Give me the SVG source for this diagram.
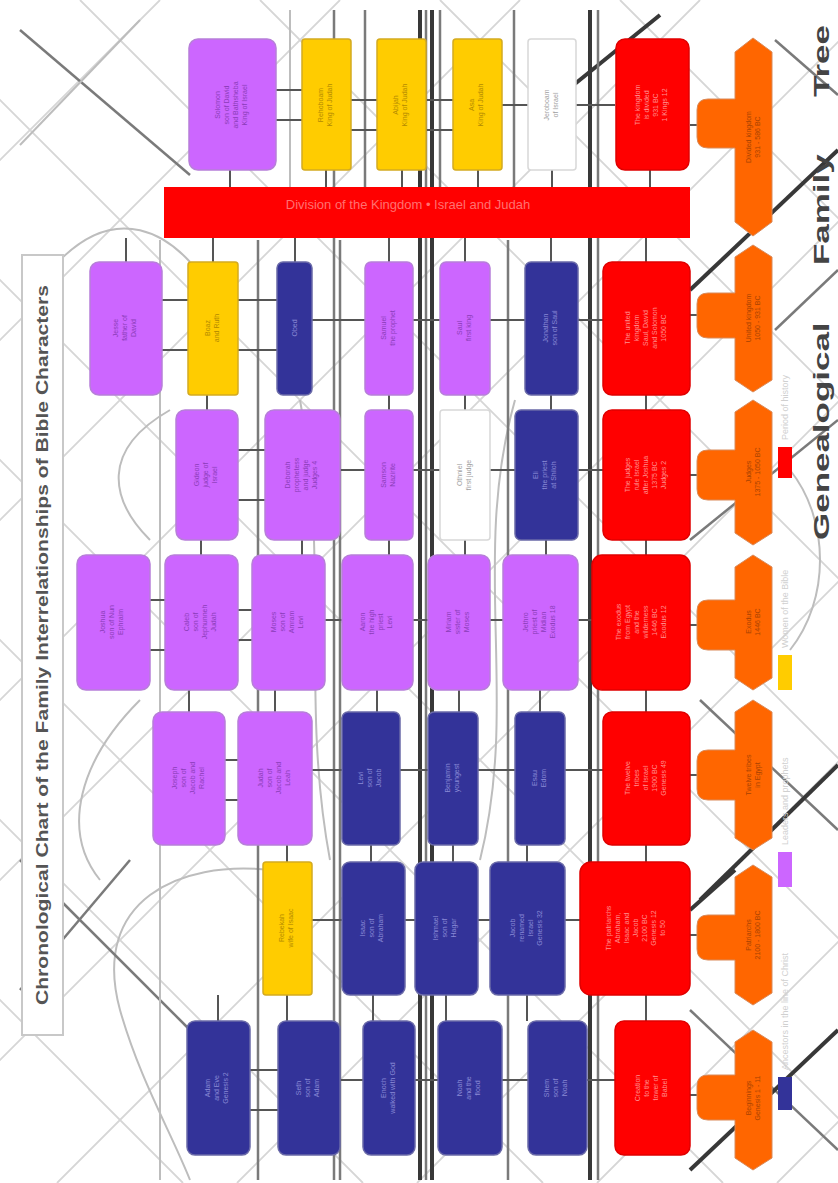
<svg xmlns="http://www.w3.org/2000/svg" width="838" height="1183" viewBox="0 0 838 1183">
<style>
.n rect{stroke-width:1.5}
.pu rect{fill:#cc66ff;stroke:#b77fd9}
.pu text{fill:#8a3cb8}
.nv rect{fill:#333399;stroke:#6a6aa8}
.nv text{fill:#8a8ad6}
.ye rect{fill:#ffcc00;stroke:#d4aa20}
.ye text{fill:#b38a00}
.rd rect{fill:#ff0000;stroke:#e00000}
.rd text{fill:#ff9090}
.wh rect{fill:#ffffff;stroke:#d8d8d8}
.wh text{fill:#a0a0a0}
.n text{font-family:"Liberation Sans",Arial,sans-serif;font-size:7px;text-anchor:middle}
.or path{fill:#ff6600;stroke:#d98a5a;stroke-width:1}
.or text{fill:#a84200;font-family:"Liberation Sans",Arial,sans-serif;font-size:7px;text-anchor:middle}
.lt{stroke:#d6d6d6;stroke-width:1.8;fill:none}
.lg{stroke:#bdbdbd;stroke-width:2;fill:none}
.md{stroke:#7a7a7a;stroke-width:2.5;fill:none}
.dk{stroke:#383838;stroke-width:4;fill:none}
.ed{stroke:#555;stroke-width:2;fill:none}
.lab{font-family:"Liberation Sans",Arial,sans-serif;font-size:9px;fill:#d0d0d0}
</style>

<rect width="838" height="1183" fill="#ffffff"/>

<g id="connectors">
  <!-- lattice of light diagonals -->
  <g class="lt">
    <path d="M160,0 L-1023,1183 M340,0 L-843,1183 M520,0 L-663,1183 M700,0 L-483,1183 M880,0 L-303,1183 M1060,0 L-123,1183 M1240,0 L57,1183 M1420,0 L237,1183 M1600,0 L417,1183 M1780,0 L597,1183 M1960,0 L777,1183"/>
    <path d="M-1000,0 L183,1183 M-820,0 L363,1183 M-640,0 L543,1183 M-460,0 L723,1183 M-280,0 L903,1183 M-100,0 L1083,1183 M80,0 L1263,1183 M260,0 L1443,1183 M440,0 L1623,1183 M620,0 L1803,1183"/>
  </g>
  <!-- arcs -->
  <path class="lg" d="M270,870 C180,860 90,900 120,1010 C140,1080 170,1130 190,1180"/>
  <path class="lg" d="M140,700 C80,760 60,830 100,880"/>
  <path class="lg" d="M150,540 C110,500 100,450 170,410"/>
  <path class="lg" d="M790,470 C830,520 830,600 790,650"/>
  <path class="lg" d="M300,400 C330,560 300,700 330,860"/>
  <path class="lg" d="M515,400 C470,560 520,700 480,860"/>
  <path class="lg" d="M60,260 C120,200 170,240 190,262"/>
  <!-- medium diagonals -->
  <path class="md" d="M20,860 L190,1030"/>
  <path class="md" d="M130,860 L20,990"/>
  <path class="md" d="M700,700 L838,830"/>
  <path class="md" d="M690,540 L838,420"/>
  <path class="md" d="M775,40 L838,95"/>
  <path class="md" d="M775,330 L838,270"/>
  <path class="md" d="M690,1010 L838,1150"/>
  <path class="md" d="M20,30 L190,175"/>
  <path class="lg" d="M140,20 L20,145"/>
  <!-- dark diagonals -->
  <path class="dk" d="M700,900 L838,765"/>
  <path class="dk" d="M690,290 L838,150"/>
  <path class="dk" d="M555,100 L660,15"/>
  <path class="dk" d="M690,1170 L838,1030"/>
  <path class="dk" d="M735,870 L690,910"/>
  <!-- vertical bundles -->
  <path class="md" d="M334,10 L334,1180"/>
  <path class="md" d="M340,240 L340,1180"/>
  <path class="dk" d="M420,10 L420,1180"/>
  <path class="dk" d="M432,10 L432,1180"/>
  <path class="md" d="M426,10 L426,1180"/>
  <path class="md" d="M508,240 L508,1180"/>
  <path class="md" d="M514,10 L514,187"/>
  <path class="dk" d="M590,10 L590,1180"/>
  <path class="md" d="M598,10 L598,1180"/>
  <path class="md" d="M258,240 L258,1180"/>
  <path class="lg" d="M160,240 L160,1180"/>
  <path class="lg" d="M290,10 L290,187"/>
  <path class="md" d="M365,10 L365,187"/>
  <path class="md" d="M440,10 L440,187"/>
  <!-- short edges between nodes (rows) -->
  <g class="ed">
    <path d="M275,90 H302 M275,120 H302 M350,100 H378 M350,130 H378 M425,100 H455 M425,130 H455 M502,105 H530 M575,105 H615 M690,125 H700"/>
    <path d="M162,300 H188 M162,350 H188 M238,300 H277 M238,350 H277 M312,320 H365 M413,320 H440 M490,320 H525 M578,320 H603 M690,315 H700"/>
    <path d="M238,450 H265 M238,500 H265 M340,470 H365 M413,470 H440 M490,470 H515 M578,470 H603 M690,475 H700"/>
    <path d="M150,600 H165 M150,650 H165 M238,610 H252 M238,640 H252 M325,620 H342 M413,620 H428 M490,620 H503 M578,620 H592 M690,625 H700"/>
    <path d="M225,760 H238 M225,800 H238 M312,770 H342 M400,770 H428 M478,770 H515 M565,770 H603 M690,775 H700"/>
    <path d="M312,920 H342 M405,920 H415 M478,920 H490 M565,920 H580 M690,935 H700"/>
    <path d="M250,1070 H278 M250,1110 H278 M340,1080 H363 M415,1080 H438 M502,1080 H528 M587,1080 H615 M690,1095 H700"/>
  </g>
  <!-- vertical short links between rows -->
  <g class="ed">
    <path d="M230,170 V187 M326,170 V187 M402,170 V187 M478,170 V187 M552,170 V187 M650,170 V187"/>
    <path d="M126,238 V262 M213,238 V262 M295,238 V262 M389,238 V262 M465,238 V262 M551,238 V262 M646,238 V262"/>
    <path d="M207,395 V410 M389,395 V410 M465,395 V410 M551,395 V410 M646,395 V410"/>
    <path d="M201,540 V555 M302,540 V555 M389,540 V555 M465,540 V555 M546,540 V555 M646,540 V555"/>
    <path d="M189,690 V712 M275,690 V712 M377,690 V712 M459,690 V712 M540,690 V712 M646,690 V712"/>
    <path d="M287,845 V862 M371,845 V862 M453,845 V862 M527,845 V862 M646,845 V862"/>
    <path d="M218,995 V1021 M287,995 V1021 M373,995 V1021 M446,995 V1021 M527,995 V1021 M646,995 V1021"/>
  </g>
</g>

<!-- Title -->
<g id="title">
  <rect x="22" y="255" width="41" height="780" fill="#ffffff" stroke="#c8c8c8" stroke-width="2"/>
  <text transform="translate(48,645) rotate(-90)" text-anchor="middle" font-family="Liberation Sans,Arial,sans-serif" font-size="17" font-weight="bold" fill="#555" textLength="720" lengthAdjust="spacingAndGlyphs">Chronological Chart of the Family Interrelationships of Bible Characters</text>
</g>

<!-- Banner -->
<g id="banner">
  <rect x="164" y="187" width="526" height="51" fill="#ff0000"/>
  <text x="408" y="209" text-anchor="middle" font-family="Liberation Sans,Arial,sans-serif" font-size="13" fill="#ff7070">Division of the Kingdom • Israel and Judah</text>
</g>

<!-- Row A -->
<g id="nA1" class="n pu"><rect x="189" y="39" width="87" height="131" rx="9"/><text transform="translate(232,105) rotate(-90)"><tspan x="0" y="-12">Solomon</tspan><tspan x="0" y="-3">son of David</tspan><tspan x="0" y="6">and Bathsheba</tspan><tspan x="0" y="15">King of Israel</tspan></text></g>
<g id="nA2" class="n ye"><rect x="302" y="39" width="49" height="131" rx="3"/><text transform="translate(326,105) rotate(-90)"><tspan x="0" y="-3">Rehoboam</tspan><tspan x="0" y="6">King of Judah</tspan></text></g>
<g id="nA3" class="n ye"><rect x="377" y="39" width="49" height="131" rx="3"/><text transform="translate(401,105) rotate(-90)"><tspan x="0" y="-3">Abijah</tspan><tspan x="0" y="6">King of Judah</tspan></text></g>
<g id="nA4" class="n ye"><rect x="453" y="39" width="49" height="131" rx="3"/><text transform="translate(477,105) rotate(-90)"><tspan x="0" y="-3">Asa</tspan><tspan x="0" y="6">King of Judah</tspan></text></g>
<g id="nA5" class="n wh"><rect x="528" y="39" width="48" height="131" rx="3"/><text transform="translate(552,105) rotate(-90)"><tspan x="0" y="-3">Jeroboam</tspan><tspan x="0" y="6">of Israel</tspan></text></g>
<g id="nA6" class="n rd"><rect x="616" y="39" width="73" height="131" rx="9"/><text transform="translate(652,105) rotate(-90)"><tspan x="0" y="-12">The kingdom</tspan><tspan x="0" y="-3">is divided</tspan><tspan x="0" y="6">931 BC</tspan><tspan x="0" y="15">1 Kings 12</tspan></text></g>

<!-- Row B -->
<g id="nB1" class="n pu"><rect x="90" y="262" width="72" height="133" rx="9"/><text transform="translate(126,328) rotate(-90)"><tspan x="0" y="-8">Jesse</tspan><tspan x="0" y="1">father of</tspan><tspan x="0" y="10">David</tspan></text></g>
<g id="nB2" class="n ye"><rect x="188" y="262" width="50" height="133" rx="3"/><text transform="translate(213,328) rotate(-90)"><tspan x="0" y="-3">Boaz</tspan><tspan x="0" y="6">and Ruth</tspan></text></g>
<g id="nB3" class="n nv"><rect x="277" y="262" width="35" height="133" rx="6"/><text transform="translate(295,328) rotate(-90)"><tspan x="0" y="2">Obed</tspan></text></g>
<g id="nB4" class="n pu"><rect x="365" y="262" width="48" height="133" rx="6"/><text transform="translate(389,328) rotate(-90)"><tspan x="0" y="-3">Samuel</tspan><tspan x="0" y="6">the prophet</tspan></text></g>
<g id="nB5" class="n pu"><rect x="440" y="262" width="50" height="133" rx="6"/><text transform="translate(465,328) rotate(-90)"><tspan x="0" y="-3">Saul</tspan><tspan x="0" y="6">first king</tspan></text></g>
<g id="nB6" class="n nv"><rect x="525" y="262" width="53" height="133" rx="6"/><text transform="translate(551,328) rotate(-90)"><tspan x="0" y="-3">Jonathan</tspan><tspan x="0" y="6">son of Saul</tspan></text></g>
<g id="nB7" class="n rd"><rect x="603" y="262" width="87" height="133" rx="9"/><text transform="translate(646,328) rotate(-90)"><tspan x="0" y="-16">The united</tspan><tspan x="0" y="-7">kingdom</tspan><tspan x="0" y="2">Saul, David</tspan><tspan x="0" y="11">and Solomon</tspan><tspan x="0" y="20">1050 BC</tspan></text></g>

<!-- Row C -->
<g id="nC1" class="n pu"><rect x="176" y="410" width="62" height="130" rx="9"/><text transform="translate(207,475) rotate(-90)"><tspan x="0" y="-8">Gideon</tspan><tspan x="0" y="1">judge of</tspan><tspan x="0" y="10">Israel</tspan></text></g>
<g id="nC2" class="n pu"><rect x="265" y="410" width="75" height="130" rx="9"/><text transform="translate(302,475) rotate(-90)"><tspan x="0" y="-12">Deborah</tspan><tspan x="0" y="-3">prophetess</tspan><tspan x="0" y="6">and judge</tspan><tspan x="0" y="15">Judges 4</tspan></text></g>
<g id="nC3" class="n pu"><rect x="365" y="410" width="48" height="130" rx="6"/><text transform="translate(389,475) rotate(-90)"><tspan x="0" y="-3">Samson</tspan><tspan x="0" y="6">Nazirite</tspan></text></g>
<g id="nC4" class="n wh"><rect x="440" y="410" width="50" height="130" rx="3"/><text transform="translate(465,475) rotate(-90)"><tspan x="0" y="-3">Othniel</tspan><tspan x="0" y="6">first judge</tspan></text></g>
<g id="nC5" class="n nv"><rect x="515" y="410" width="63" height="130" rx="6"/><text transform="translate(546,475) rotate(-90)"><tspan x="0" y="-8">Eli</tspan><tspan x="0" y="1">the priest</tspan><tspan x="0" y="10">at Shiloh</tspan></text></g>
<g id="nC6" class="n rd"><rect x="603" y="410" width="87" height="130" rx="9"/><text transform="translate(646,475) rotate(-90)"><tspan x="0" y="-16">The judges</tspan><tspan x="0" y="-7">rule Israel</tspan><tspan x="0" y="2">after Joshua</tspan><tspan x="0" y="11">1375 BC</tspan><tspan x="0" y="20">Judges 2</tspan></text></g>

<!-- Row D -->
<g id="nD1" class="n pu"><rect x="77" y="555" width="73" height="135" rx="9"/><text transform="translate(113,622) rotate(-90)"><tspan x="0" y="-8">Joshua</tspan><tspan x="0" y="1">son of Nun</tspan><tspan x="0" y="10">Ephraim</tspan></text></g>
<g id="nD2" class="n pu"><rect x="165" y="555" width="73" height="135" rx="9"/><text transform="translate(201,622) rotate(-90)"><tspan x="0" y="-12">Caleb</tspan><tspan x="0" y="-3">son of</tspan><tspan x="0" y="6">Jephunneh</tspan><tspan x="0" y="15">Judah</tspan></text></g>
<g id="nD3" class="n pu"><rect x="252" y="555" width="73" height="135" rx="9"/><text transform="translate(288,622) rotate(-90)"><tspan x="0" y="-12">Moses</tspan><tspan x="0" y="-3">son of</tspan><tspan x="0" y="6">Amram</tspan><tspan x="0" y="15">Levi</tspan></text></g>
<g id="nD4" class="n pu"><rect x="342" y="555" width="71" height="135" rx="9"/><text transform="translate(377,622) rotate(-90)"><tspan x="0" y="-12">Aaron</tspan><tspan x="0" y="-3">the high</tspan><tspan x="0" y="6">priest</tspan><tspan x="0" y="15">Levi</tspan></text></g>
<g id="nD5" class="n pu"><rect x="428" y="555" width="62" height="135" rx="9"/><text transform="translate(459,622) rotate(-90)"><tspan x="0" y="-8">Miriam</tspan><tspan x="0" y="1">sister of</tspan><tspan x="0" y="10">Moses</tspan></text></g>
<g id="nD6" class="n pu"><rect x="503" y="555" width="75" height="135" rx="9"/><text transform="translate(540,622) rotate(-90)"><tspan x="0" y="-12">Jethro</tspan><tspan x="0" y="-3">priest of</tspan><tspan x="0" y="6">Midian</tspan><tspan x="0" y="15">Exodus 18</tspan></text></g>
<g id="nD7" class="n rd"><rect x="592" y="555" width="98" height="135" rx="10"/><text transform="translate(641,622) rotate(-90)"><tspan x="0" y="-20">The exodus</tspan><tspan x="0" y="-11">from Egypt</tspan><tspan x="0" y="-2">and the</tspan><tspan x="0" y="7">wilderness</tspan><tspan x="0" y="16">1446 BC</tspan><tspan x="0" y="25">Exodus 12</tspan></text></g>

<!-- Row E -->
<g id="nE1" class="n pu"><rect x="153" y="712" width="72" height="133" rx="9"/><text transform="translate(189,778) rotate(-90)"><tspan x="0" y="-12">Joseph</tspan><tspan x="0" y="-3">son of</tspan><tspan x="0" y="6">Jacob and</tspan><tspan x="0" y="15">Rachel</tspan></text></g>
<g id="nE2" class="n pu"><rect x="238" y="712" width="74" height="133" rx="9"/><text transform="translate(275,778) rotate(-90)"><tspan x="0" y="-12">Judah</tspan><tspan x="0" y="-3">son of</tspan><tspan x="0" y="6">Jacob and</tspan><tspan x="0" y="15">Leah</tspan></text></g>
<g id="nE3" class="n nv"><rect x="342" y="712" width="58" height="133" rx="6"/><text transform="translate(371,778) rotate(-90)"><tspan x="0" y="-8">Levi</tspan><tspan x="0" y="1">son of</tspan><tspan x="0" y="10">Jacob</tspan></text></g>
<g id="nE4" class="n nv"><rect x="428" y="712" width="50" height="133" rx="6"/><text transform="translate(453,778) rotate(-90)"><tspan x="0" y="-3">Benjamin</tspan><tspan x="0" y="6">youngest</tspan></text></g>
<g id="nE5" class="n nv"><rect x="515" y="712" width="50" height="133" rx="6"/><text transform="translate(540,778) rotate(-90)"><tspan x="0" y="-3">Esau</tspan><tspan x="0" y="6">Edom</tspan></text></g>
<g id="nE6" class="n rd"><rect x="603" y="712" width="87" height="133" rx="9"/><text transform="translate(646,778) rotate(-90)"><tspan x="0" y="-16">The twelve</tspan><tspan x="0" y="-7">tribes</tspan><tspan x="0" y="2">of Israel</tspan><tspan x="0" y="11">1900 BC</tspan><tspan x="0" y="20">Genesis 49</tspan></text></g>

<!-- Row F -->
<g id="nF1" class="n ye"><rect x="263" y="862" width="49" height="133" rx="3"/><text transform="translate(287,928) rotate(-90)"><tspan x="0" y="-3">Rebekah</tspan><tspan x="0" y="6">wife of Isaac</tspan></text></g>
<g id="nF2" class="n nv"><rect x="342" y="862" width="63" height="133" rx="8"/><text transform="translate(373,928) rotate(-90)"><tspan x="0" y="-8">Isaac</tspan><tspan x="0" y="1">son of</tspan><tspan x="0" y="10">Abraham</tspan></text></g>
<g id="nF3" class="n nv"><rect x="415" y="862" width="63" height="133" rx="8"/><text transform="translate(446,928) rotate(-90)"><tspan x="0" y="-8">Ishmael</tspan><tspan x="0" y="1">son of</tspan><tspan x="0" y="10">Hagar</tspan></text></g>
<g id="nF4" class="n nv"><rect x="490" y="862" width="75" height="133" rx="8"/><text transform="translate(527,928) rotate(-90)"><tspan x="0" y="-12">Jacob</tspan><tspan x="0" y="-3">renamed</tspan><tspan x="0" y="6">Israel</tspan><tspan x="0" y="15">Genesis 32</tspan></text></g>
<g id="nF5" class="n rd"><rect x="580" y="862" width="110" height="133" rx="11"/><text transform="translate(635,928) rotate(-90)"><tspan x="0" y="-24">The patriarchs</tspan><tspan x="0" y="-15">Abraham,</tspan><tspan x="0" y="-6">Isaac and</tspan><tspan x="0" y="3">Jacob</tspan><tspan x="0" y="12">2100 BC</tspan><tspan x="0" y="21">Genesis 12</tspan><tspan x="0" y="30">to 50</tspan></text></g>

<!-- Row G -->
<g id="nG1" class="n nv"><rect x="187" y="1021" width="63" height="134" rx="8"/><text transform="translate(218,1088) rotate(-90)"><tspan x="0" y="-8">Adam</tspan><tspan x="0" y="1">and Eve</tspan><tspan x="0" y="10">Genesis 2</tspan></text></g>
<g id="nG2" class="n nv"><rect x="278" y="1021" width="62" height="134" rx="8"/><text transform="translate(309,1088) rotate(-90)"><tspan x="0" y="-8">Seth</tspan><tspan x="0" y="1">son of</tspan><tspan x="0" y="10">Adam</tspan></text></g>
<g id="nG3" class="n nv"><rect x="363" y="1021" width="52" height="134" rx="8"/><text transform="translate(389,1088) rotate(-90)"><tspan x="0" y="-3">Enoch</tspan><tspan x="0" y="6">walked with God</tspan></text></g>
<g id="nG4" class="n nv"><rect x="438" y="1021" width="64" height="134" rx="8"/><text transform="translate(470,1088) rotate(-90)"><tspan x="0" y="-8">Noah</tspan><tspan x="0" y="1">and the</tspan><tspan x="0" y="10">flood</tspan></text></g>
<g id="nG5" class="n nv"><rect x="528" y="1021" width="59" height="134" rx="8"/><text transform="translate(557,1088) rotate(-90)"><tspan x="0" y="-8">Shem</tspan><tspan x="0" y="1">son of</tspan><tspan x="0" y="10">Noah</tspan></text></g>
<g id="nG6" class="n rd"><rect x="615" y="1021" width="75" height="134" rx="9"/><text transform="translate(652,1088) rotate(-90)"><tspan x="0" y="-12">Creation</tspan><tspan x="0" y="-3">to the</tspan><tspan x="0" y="6">tower of</tspan><tspan x="0" y="15">Babel</tspan></text></g>

<!-- Orange period markers -->
<g id="o1" class="or"><path d="M735,52 L753,38 L772,52 L772,222 L753,236 L735,222 L735,148 L708,148 Q697,148 697,137 L697,110 Q697,99 708,99 L735,99 Z"/><text transform="translate(754,137) rotate(-90)"><tspan x="0" y="-3">Divided kingdom</tspan><tspan x="0" y="6">931 - 586 BC</tspan></text></g>
<g id="o2" class="or"><path d="M735,257 L753,245 L772,257 L772,380 L753,392 L735,380 L735,338 L708,338 Q697,338 697,327 L697,304 Q697,293 708,293 L735,293 Z"/><text transform="translate(754,318) rotate(-90)"><tspan x="0" y="-3">United kingdom</tspan><tspan x="0" y="6">1050 - 931 BC</tspan></text></g>
<g id="o3" class="or"><path d="M735,412 L753,400 L772,412 L772,533 L753,545 L735,533 L735,500 L708,500 Q697,500 697,489 L697,461 Q697,450 708,450 L735,450 Z"/><text transform="translate(754,472) rotate(-90)"><tspan x="0" y="-3">Judges</tspan><tspan x="0" y="6">1375 - 1050 BC</tspan></text></g>
<g id="o4" class="or"><path d="M735,567 L753,555 L772,567 L772,678 L753,690 L735,678 L735,650 L708,650 Q697,650 697,639 L697,611 Q697,600 708,600 L735,600 Z"/><text transform="translate(754,622) rotate(-90)"><tspan x="0" y="-3">Exodus</tspan><tspan x="0" y="6">1446 BC</tspan></text></g>
<g id="o5" class="or"><path d="M735,712 L753,700 L772,712 L772,838 L753,850 L735,838 L735,800 L708,800 Q697,800 697,789 L697,761 Q697,750 708,750 L735,750 Z"/><text transform="translate(754,775) rotate(-90)"><tspan x="0" y="-3">Twelve tribes</tspan><tspan x="0" y="6">in Egypt</tspan></text></g>
<g id="o6" class="or"><path d="M735,877 L753,865 L772,877 L772,993 L753,1005 L735,993 L735,960 L708,960 Q697,960 697,949 L697,926 Q697,915 708,915 L735,915 Z"/><text transform="translate(754,935) rotate(-90)"><tspan x="0" y="-3">Patriarchs</tspan><tspan x="0" y="6">2100 - 1800 BC</tspan></text></g>
<g id="o7" class="or"><path d="M735,1042 L753,1030 L772,1042 L772,1158 L753,1170 L735,1158 L735,1120 L708,1120 Q697,1120 697,1109 L697,1086 Q697,1075 708,1075 L735,1075 Z"/><text transform="translate(754,1098) rotate(-90)"><tspan x="0" y="-3">Beginnings</tspan><tspan x="0" y="6">Genesis 1 - 11</tspan></text></g>

<!-- Legend -->
<g id="legend">
  <rect x="778" y="447" width="14" height="31" fill="#ff0000"/>
  <text class="lab" transform="translate(788,440) rotate(-90)">Period of history</text>
  <rect x="778" y="655" width="14" height="35" fill="#ffcc00"/>
  <text class="lab" transform="translate(788,648) rotate(-90)">Women of the Bible</text>
  <rect x="778" y="852" width="14" height="35" fill="#cc66ff"/>
  <text class="lab" transform="translate(788,845) rotate(-90)">Leaders and prophets</text>
  <rect x="778" y="1077" width="14" height="33" fill="#333399"/>
  <text class="lab" transform="translate(788,1070) rotate(-90)">Ancestors in the line of Christ</text>
  <text transform="translate(829,540) rotate(-90)" font-family="Liberation Sans,Arial,sans-serif" font-size="22" font-weight="bold" fill="#444" word-spacing="30" textLength="515" lengthAdjust="spacingAndGlyphs">Genealogical Family Tree</text>
</g>
</svg>
